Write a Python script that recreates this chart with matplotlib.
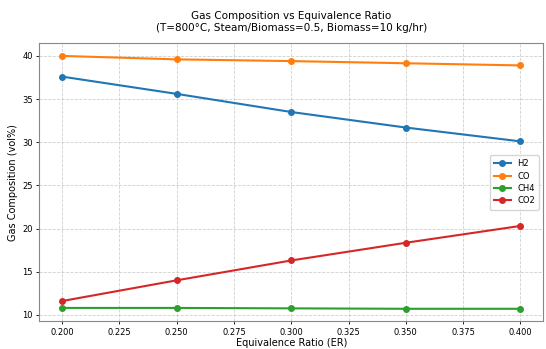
import matplotlib
matplotlib.use("Agg")
import matplotlib.pyplot as plt

er = [0.20, 0.25, 0.30, 0.35, 0.40]
h2 = [37.6, 35.6, 33.5, 31.7, 30.1]
co = [40.0, 39.6, 39.4, 39.15, 38.9]
ch4 = [10.8, 10.8, 10.75, 10.7, 10.7]
co2 = [11.6, 14.0, 16.3, 18.35, 20.3]
labels = ["H2", "CO", "CH4", "CO2"]

fig = plt.figure(figsize=(5.46, 3.49), dpi=100)
ax = fig.add_axes([0.072, 0.079, 0.923, 0.797])
for vals, lab in zip([h2, co, ch4, co2], labels):
    ax.plot(er, vals, marker="o", markersize=4, linewidth=1.5, label=lab)

ax.set_xticks([0.200, 0.225, 0.250, 0.275, 0.300, 0.325, 0.350, 0.375, 0.400])
ax.set_xticklabels(["0.200", "0.225", "0.250", "0.275", "0.300", "0.325", "0.350", "0.375", "0.400"])
ax.set_yticks([10, 15, 20, 25, 30, 35, 40])
ax.tick_params(labelsize=6, length=2.5, width=0.6, pad=2)
ax.set_xlabel("Equivalence Ratio (ER)", fontsize=7, labelpad=1)
ax.set_ylabel("Gas Composition (vol%)", fontsize=7, labelpad=3)
ax.set_title("Gas Composition vs Equivalence Ratio\n(T=800°C, Steam/Biomass=0.5, Biomass=10 kg/hr)", fontsize=7.5, pad=9)
ax.grid(True, linestyle="--", alpha=0.6, linewidth=0.6)
for s in ax.spines.values():
    s.set_color("#888888")
    s.set_linewidth(0.8)
ax.legend(fontsize=6, loc="center right", handlelength=2.0, borderpad=0.5, labelspacing=0.4)
fig.savefig("out.png", dpi=100)
